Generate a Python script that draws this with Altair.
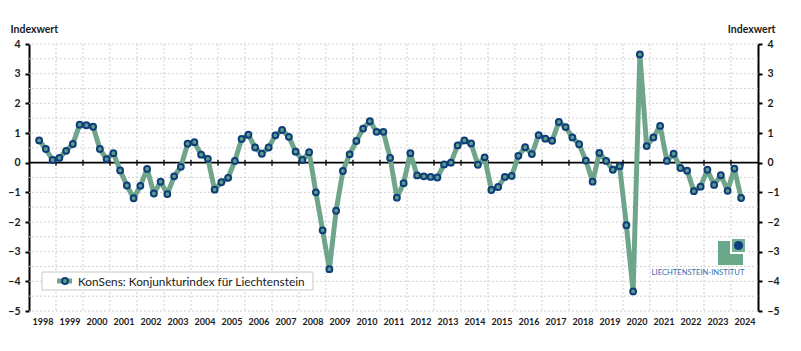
import altair as alt
import pandas as pd

# ---- data -------------------------------------------------------------
start_year = 1998
start_quarter = 2
values = [
    0.75, 0.46, 0.09,                 # 1998 Q2-Q4
    0.16, 0.40, 0.63, 1.28,           # 1999
    1.26, 1.21, 0.46, 0.12,           # 2000
    0.32, -0.26, -0.77, -1.20,        # 2001
    -0.78, -0.21, -1.04, -0.64,       # 2002
    -1.06, -0.46, -0.14, 0.64,        # 2003
    0.69, 0.27, 0.13, -0.91,          # 2004
    -0.66, -0.51, 0.06, 0.80,         # 2005
    0.94, 0.51, 0.30, 0.51,           # 2006
    0.92, 1.10, 0.87, 0.37,           # 2007
    0.09, 0.35, -1.00, -2.28,         # 2008
    -3.59, -1.62, -0.28, 0.28,        # 2009
    0.73, 1.15, 1.40, 1.04,           # 2010
    1.04, 0.16, -1.18, -0.69,         # 2011
    0.32, -0.43, -0.46, -0.48,        # 2012
    -0.50, -0.06, 0.00, 0.58,         # 2013
    0.75, 0.65, -0.07, 0.18,          # 2014
    -0.92, -0.82, -0.48, -0.45,       # 2015
    0.23, 0.52, 0.29, 0.93,           # 2016
    0.81, 0.74, 1.37, 1.20,           # 2017
    0.85, 0.62, 0.07, -0.64,          # 2018
    0.33, 0.06, -0.24, -0.12,         # 2019
    -2.11, -4.34, 3.65, 0.56,         # 2020
    0.85, 1.24, 0.06, 0.30,           # 2021
    -0.18, -0.27, -0.96, -0.81,       # 2022
    -0.24, -0.75, -0.42, -0.95,       # 2023
    -0.20, -1.19,                     # 2024 Q1-Q2
]
year_labels = list(range(1998, 2025))
year_bounds = list(range(1999, 2025))
y_ticks = list(range(-5, 5))
y_grid = [v / 2 for v in range(-10, 9)]
series_name = "KonSens: Konjunkturindex für Liechtenstein"
logo_text = "LIECHTENSTEIN-INSTITUT"

rows = []
y, q = start_year, start_quarter
for v in values:
    rows.append({"quarter": f"{y} Q{q}", "t": y + (q - 0.5) / 4, "value": v})
    q += 1
    if q > 4:
        q, y = 1, y + 1
df = pd.DataFrame(rows)

# ---- styles -----------------------------------------------------------
FONT = "Lato"
GREEN = "#6fa68b"
PT_FILL = "#5e9d88"
NAVY = "#0f3d7c"
GRID = "#d0d0d0"
W, H = 729, 267

xs = alt.Scale(domain=[1998, 2025], nice=False, zero=False)
ys = alt.Scale(domain=[-5, 4], nice=False, zero=False)

one = pd.DataFrame({"a": [0]})

# gridlines + left axis
grid_h = alt.Chart(pd.DataFrame({"g": y_grid})).mark_rule(
    color=GRID, strokeDash=[2, 2], strokeWidth=1
).encode(
    y=alt.Y("g:Q", scale=ys, axis=alt.Axis(
        orient="left", values=y_ticks, grid=False,
        title="Indexwert", titleAngle=0, titleAlign="left",
        titleBaseline="alphabetic", titleX=-19, titleY=-12,
        titleFont=FONT, titleFontSize=10.5, titleFontWeight="bold", titleColor="#1a1a1a",
        labelFont=FONT, labelFontSize=10.5, labelFontWeight="bold", labelColor="#1a1a1a",
        labelPadding=5, tickSize=4, tickWidth=2, tickColor="black",
        domainColor="black", domainWidth=2,
    ))
)

grid_v = alt.Chart(pd.DataFrame({"yb": year_bounds})).mark_rule(
    color=GRID, strokeDash=[2, 2], strokeWidth=1
).encode(
    x=alt.X("yb:Q", scale=xs, axis=None)
)

# x labels (centered in each year)
xlab = alt.Chart(pd.DataFrame({"yl": [yv + 0.5 for yv in year_labels]})).mark_rule(
    opacity=0
).encode(
    x=alt.X("yl:Q", scale=xs, axis=alt.Axis(
        orient="bottom", values=[yv + 0.5 for yv in year_labels],
        labelExpr="toString(floor(datum.value))",
        ticks=False, domain=False, grid=False, title=None,
        labelFont=FONT, labelFontSize=9, labelFontWeight="bold",
        labelColor="#1a1a1a", labelPadding=6,
    ))
)

zero = alt.Chart(one).mark_rule(color="black", strokeWidth=1.8).encode(
    y=alt.Y("z:Q", scale=ys, axis=None)
).transform_calculate(z="0")

zero_ticks = alt.Chart(pd.DataFrame({"yb": year_bounds, "z": [0] * len(year_bounds)})).mark_tick(
    orient="vertical", size=6, thickness=1.8, color="black"
).encode(
    x=alt.X("yb:Q", scale=xs, axis=None),
    y=alt.Y("z:Q", scale=ys, axis=None),
)

line = alt.Chart(df).mark_line(
    color=GREEN, strokeWidth=5, strokeJoin="round", strokeCap="round"
).encode(
    x=alt.X("t:Q", scale=xs, axis=None),
    y=alt.Y("value:Q", scale=ys, axis=alt.Axis(
        orient="right", values=y_ticks, grid=False,
        title="Indexwert", titleAngle=0, titleAlign="right",
        titleBaseline="alphabetic", titleX=17, titleY=-12,
        titleFont=FONT, titleFontSize=10.5, titleFontWeight="bold", titleColor="#1a1a1a",
        labelFont=FONT, labelFontSize=10.5, labelFontWeight="bold", labelColor="#1a1a1a",
        labelPadding=5, tickSize=4, tickWidth=2, tickColor="black",
        domainColor="black", domainWidth=2,
    )),
)

points = alt.Chart(df).mark_circle(
    size=34, fill=PT_FILL, stroke=NAVY, strokeWidth=2, opacity=1
).encode(
    x=alt.X("t:Q", scale=xs, axis=None),
    y=alt.Y("value:Q", scale=ys, axis=None),
    tooltip=["quarter:N", "value:Q"],
)

# legend (custom)
leg_box = alt.Chart(one).mark_rect(fill="white", stroke="#c8c8c8", strokeWidth=1).encode(
    x=alt.value(13), x2=alt.value(284), y=alt.value(228), y2=alt.value(246)
)
leg_line = alt.Chart(one).mark_rule(color=GREEN, strokeWidth=5).encode(
    x=alt.value(28), x2=alt.value(43), y=alt.value(237)
)
leg_pt = alt.Chart(one).mark_circle(size=34, fill=PT_FILL, stroke=NAVY, strokeWidth=2, opacity=1).encode(
    x=alt.value(36), y=alt.value(237)
)
leg_text = alt.Chart(pd.DataFrame({"s": [series_name]})).mark_text(
    align="left", baseline="middle", font=FONT, fontSize=11.8, color="#1a1a1a"
).encode(x=alt.value(49), y=alt.value(237.5), text="s:N")

# logo
logo_big = alt.Chart(one).mark_rect(fill="#6aa88a").encode(
    x=alt.value(689), x2=alt.value(714), y=alt.value(197), y2=alt.value(221)
)
logo_gap = alt.Chart(one).mark_rect(fill="white").encode(
    x=alt.value(701), x2=alt.value(718), y=alt.value(193), y2=alt.value(210)
)
logo_small = alt.Chart(one).mark_rect(fill="#78b096").encode(
    x=alt.value(703), x2=alt.value(716), y=alt.value(195), y2=alt.value(208)
)
logo_dot = alt.Chart(one).mark_circle(size=85, color="#0b3f80", opacity=1).encode(
    x=alt.value(709.5), y=alt.value(201.5)
)
logo_txt = alt.Chart(pd.DataFrame({"s": [logo_text]})).mark_text(
    align="center", baseline="middle", font=FONT,
    fontSize=7.6, color="#3a6ea8"
).encode(x=alt.value(669), y=alt.value(228.5), text="s:N")

chart = alt.layer(
    grid_h, grid_v, xlab, zero, zero_ticks, line, points,
    leg_box, leg_line, leg_pt, leg_text,
    logo_big, logo_gap, logo_small, logo_dot, logo_txt,
).resolve_axis(x="independent", y="independent").properties(
    width=W, height=H,
    autosize=alt.AutoSizeParams(type="none"),
    padding={"left": 29, "top": 44, "right": 43, "bottom": 40},
    background="white",
).configure_view(stroke=None)

chart.save("out.html", embed_options={"renderer": "svg", "actions": False})
